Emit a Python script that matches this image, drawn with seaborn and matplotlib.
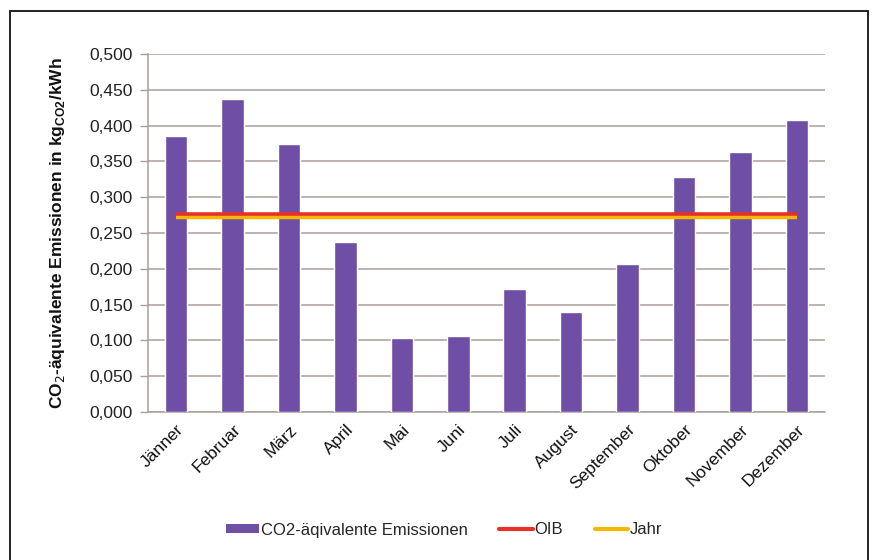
import matplotlib
matplotlib.use("Agg")
import matplotlib.pyplot as plt
from matplotlib.lines import Line2D
from matplotlib.patches import Patch
from matplotlib.ticker import FuncFormatter, MultipleLocator, FixedLocator
import numpy as np
import pandas as pd
import seaborn as sns

# Monthly CO2-equivalent emission factors (kg CO2 / kWh)
months = ["Jänner", "Februar", "März", "April", "Mai", "Juni", "Juli",
          "August", "September", "Oktober", "November", "Dezember"]
emissions = [0.385, 0.437, 0.374, 0.237, 0.103, 0.106, 0.172,
             0.140, 0.207, 0.328, 0.363, 0.408]
oib_value = 0.276
year_value = 0.273

bar_label = "CO2-äqivalente Emissionen"
oib_label = "OIB"
year_label = "Jahr"

bar_color = "#6e4fa5"
oib_color = "#e8302a"
year_color = "#f5b800"
grid_color = "#ab9f9c"

sns.set_theme(style="white")
plt.rcParams["font.family"] = ["Liberation Sans", "DejaVu Sans"]

fig = plt.figure(figsize=(8.74, 5.6), dpi=100)
fig.patch.set_facecolor("white")
ax = fig.add_axes([148 / 874, 1 - 412 / 560, 677 / 874, 358 / 560])

df = pd.DataFrame({"Monat": months, "Emissionen": emissions})
sns.barplot(data=df, x="Monat", y="Emissionen", color=bar_color,
            saturation=1, width=0.4, ax=ax, zorder=3)

n = len(months)
ax.hlines(year_value, 0, n - 1, color=year_color, lw=3.2, zorder=4)
ax.hlines(oib_value, 0, n - 1, color=oib_color, lw=2.6, zorder=5)

ax.set_xlim(-0.5, n - 0.5)
ax.set_ylim(0, 0.5)
ax.yaxis.set_major_locator(MultipleLocator(0.05))
ax.yaxis.set_major_formatter(FuncFormatter(lambda v, _: f"{v:.3f}".replace(".", ",")))
ax.grid(axis="y", color=grid_color, lw=1.1, zorder=0)
ax.set_axisbelow(True)

for side in ("top", "right"):
    ax.spines[side].set_visible(False)
for side in ("left", "bottom"):
    ax.spines[side].set_color(grid_color)
    ax.spines[side].set_linewidth(1.1)

ax.xaxis.set_minor_locator(FixedLocator(np.arange(-0.5, n, 1.0)))
ax.tick_params(axis="x", which="major", length=0, pad=7, labelsize=12.5, colors="#111111")
ax.tick_params(axis="x", which="minor", length=5, width=1, color=grid_color, direction="out")
ax.tick_params(axis="y", length=6, width=1, color=grid_color, direction="out",
               labelsize=12.5, labelcolor="#222222", left=True, pad=5)
plt.setp(ax.get_xticklabels(), rotation=45, ha="right", rotation_mode="anchor")

ax.set_xlabel("")
ax.set_ylabel(r"CO$_2$-äquivalente Emissionen in kg$_{\mathregular{CO2}}$/kWh",
              fontsize=12.5, fontweight="bold", color="#111111")
ax.yaxis.set_label_coords(-0.12, 0.5)

handles = [Patch(facecolor=bar_color, edgecolor="none"),
           Line2D([], [], color=oib_color, lw=3),
           Line2D([], [], color=year_color, lw=3)]
fig.legend(handles, [bar_label, oib_label, year_label], loc="center",
           bbox_to_anchor=(444 / 874, 1 - 530 / 560), ncol=3, frameon=False,
           fontsize=12, handlelength=2.0, handletextpad=0.1, columnspacing=1.9,
           handleheight=0.5)

# Outer frame (open at the bottom)
frame_kw = dict(color="#222222", lw=1.4, transform=fig.transFigure)
x0, x1 = 10 / 874, 868 / 874
y_top = 1 - 11 / 560
fig.add_artist(Line2D([x0, x1], [y_top, y_top], **frame_kw))
fig.add_artist(Line2D([x0, x0], [0, y_top], **frame_kw))
fig.add_artist(Line2D([x1, x1], [0, y_top], **frame_kw))

fig.savefig("out.png", dpi=100, facecolor="white")
